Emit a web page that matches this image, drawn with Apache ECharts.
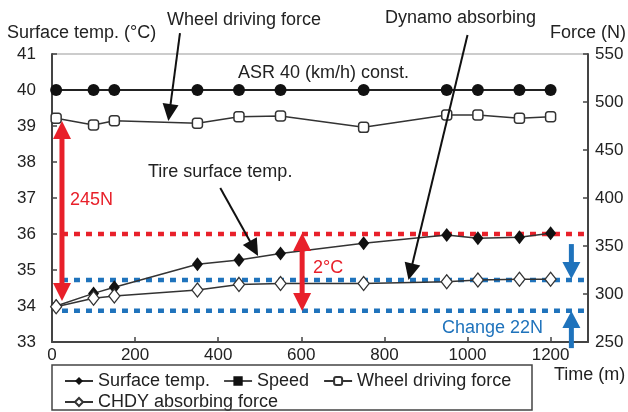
<!DOCTYPE html>
<html><head><meta charset="utf-8">
<script src="https://cdn.jsdelivr.net/npm/echarts@6/dist/echarts.min.js"></script>
<style>html,body{margin:0;padding:0;background:#fff}#c{width:628px;height:412px}</style>
</head><body><div id="c"></div>
<script>
// ---- data ----
const distance = [10, 100, 150, 350, 450, 550, 750, 950, 1025, 1125, 1200];
const surfaceTemp = [34.0, 34.35, 34.52, 35.16, 35.28, 35.46, 35.74, 35.97, 35.88, 35.91, 36.02];
const speed = [40, 40, 40, 40, 40, 40, 40, 40, 40, 40, 40];
const wheelForce = [483, 476, 480.5, 477.8, 484.7, 485.4, 473.6, 486.5, 486.5, 483, 484.7];
const chdyForce = [286.8, 295.5, 298, 304.2, 310, 311, 311, 312.8, 314.6, 315.3, 315.3];
const xTicks = [0, 200, 400, 600, 800, 1000, 1200];
const tempTicks = [33, 34, 35, 36, 37, 38, 39, 40, 41];
const forceTicks = [250, 300, 350, 400, 450, 500, 550];
// reference levels
const refTemp = 36;          // red dotted (°C)
const refForceHi = 314.5;    // blue dotted (N)
const refForceLo = 282.5;    // blue dotted (N)
const refStart = 24;         // m
const xMax = 1290;

const FONT = '"Liberation Sans", Arial, sans-serif';
const RED = '#e8202a', BLUE = '#1f73bc', INK = '#222';

const chart = echarts.init(document.getElementById('c'), null, {renderer: 'canvas'});

const zip = (xs, ys) => xs.map((x, i) => [x, ys[i]]);

chart.setOption({
  animation: false,
  backgroundColor: '#fff',
  grid: {left: 52, right: 40, top: 54, bottom: 70, show: true, borderColor: '#999', borderWidth: 1},
  xAxis: {
    type: 'value', min: xTicks[0], max: xMax, interval: 200,
    axisLine: {show: true, onZero: false, lineStyle: {color: '#444', width: 2}},
    axisTick: {show: true, inside: true, length: 5, lineStyle: {color: '#444', width: 1.5}},
    axisLabel: {fontSize: 17, color: INK, fontFamily: FONT, margin: 5, showMaxLabel: false,
      formatter: v => xTicks.includes(v) ? String(v) : ''},
    splitLine: {show: false}
  },
  yAxis: [{
    type: 'value', position: 'left', min: tempTicks[0], max: tempTicks[tempTicks.length - 1], interval: 1,
    axisLine: {show: true, lineStyle: {color: '#444', width: 2}},
    axisTick: {show: true, inside: true, length: 5, lineStyle: {color: '#444', width: 1.5}},
    axisLabel: {fontSize: 17, color: INK, fontFamily: FONT, margin: 16},
    splitLine: {show: false}
  }, {
    type: 'value', position: 'right', min: forceTicks[0], max: forceTicks[forceTicks.length - 1], interval: 50,
    axisLine: {show: true, lineStyle: {color: '#444', width: 2}},
    axisTick: {show: true, inside: true, length: 5, lineStyle: {color: '#444', width: 1.5}},
    axisLabel: {fontSize: 17, color: INK, fontFamily: FONT, margin: 7},
    splitLine: {show: false}
  }],
  legend: [{
    data: ['Surface temp.', {name: 'Speed', icon: 'path://M0,8.2H30V9.8H0Z M10,4H20V14H10Z'}, 'Wheel driving force'],
    left: 59, top: 367, itemWidth: 28, itemHeight: 10, itemGap: 14, padding: 5,
    selectedMode: false,
    textStyle: {fontSize: 18, color: INK, fontFamily: FONT}
  }, {
    data: ['CHDY absorbing force'],
    left: 59, top: 388, itemWidth: 28, itemHeight: 10, padding: 5,
    selectedMode: false,
    textStyle: {fontSize: 18, color: INK, fontFamily: FONT}
  }],
  series: [
    {name: 'refRed', type: 'line', yAxisIndex: 0, silent: true, symbol: 'none', z: 1,
      data: [[refStart, refTemp], [xMax, refTemp]],
      lineStyle: {color: RED, width: 4.5, type: [6, 6]}},
    {name: 'refBlueHi', type: 'line', yAxisIndex: 1, silent: true, symbol: 'none', z: 1,
      data: [[refStart, refForceHi], [xMax, refForceHi]],
      lineStyle: {color: BLUE, width: 4.5, type: [6, 6]}},
    {name: 'refBlueLo', type: 'line', yAxisIndex: 1, silent: true, symbol: 'none', z: 1,
      data: [[refStart, refForceLo], [xMax, refForceLo]],
      lineStyle: {color: BLUE, width: 4.5, type: [6, 6]}},
    {name: 'Speed', type: 'line', yAxisIndex: 0, data: zip(distance, speed), z: 3,
      symbol: 'circle', symbolSize: 12,
      lineStyle: {color: '#222', width: 2}, itemStyle: {color: '#111'}},
    {name: 'Wheel driving force', type: 'line', yAxisIndex: 1, data: zip(distance, wheelForce), z: 3,
      symbol: 'roundRect', symbolSize: 10,
      lineStyle: {color: '#333', width: 1.5}, itemStyle: {color: '#fff', borderColor: '#333', borderWidth: 1.5}},
    {name: 'Surface temp.', type: 'line', yAxisIndex: 0, data: zip(distance, surfaceTemp), z: 3,
      symbol: 'diamond', symbolSize: [11, 14],
      lineStyle: {color: '#333', width: 1.5}, itemStyle: {color: '#111'}},
    {name: 'CHDY absorbing force', type: 'line', yAxisIndex: 1, data: zip(distance, chdyForce), z: 4,
      symbol: 'diamond', symbolSize: [11, 14],
      lineStyle: {color: '#333', width: 1.5}, itemStyle: {color: '#fff', borderColor: '#333', borderWidth: 1.3}}
  ]
});

// annotation arrows, in data coordinates (x: m, y: °C on the left axis)
const arrows = [
  {from: [308, 41.58], to: [280, 39.14], color: '#111', w: 2, hl: 17, hw: 16, both: false},   // Wheel driving force
  {from: [405, 37.28], to: [496, 35.39], color: '#111', w: 2, hl: 17, hw: 16, both: false},   // Tire surface temp.
  {from: [1000, 41.53], to: [858, 34.72], color: '#111', w: 2, hl: 17, hw: 16, both: false},  // Dynamo absorbing
  {from: [24, 39.14], to: [24, 34.14], color: RED, w: 5, hl: 18, hw: 18, both: true},          // 245N
  {from: [602, 36.03], to: [602, 33.86], color: RED, w: 5, hl: 18, hw: 18, both: true},        // 2°C
  {from: [1250, 35.72], to: [1250, 34.75], color: BLUE, w: 5, hl: 17, hw: 18, both: false},    // down
  {from: [1250, 32.83], to: [1250, 33.86], color: BLUE, w: 5, hl: 17, hw: 18, both: false}     // up
];

function px(p) { return chart.convertToPixel({xAxisIndex: 0, yAxisIndex: 0}, p); }

function arrowEls(a) {
  const p0 = px(a.from), p1 = px(a.to);
  const dx = p1[0] - p0[0], dy = p1[1] - p0[1];
  const L = Math.hypot(dx, dy), ux = dx / L, uy = dy / L, nx = -uy, ny = ux;
  const head = (tip, sx, sy) => {
    const bx = tip[0] - sx * a.hl, by = tip[1] - sy * a.hl;
    return {type: 'polygon', z: 100, silent: true,
      shape: {points: [tip, [bx + nx * a.hw / 2, by + ny * a.hw / 2], [bx - nx * a.hw / 2, by - ny * a.hw / 2]]},
      style: {fill: a.color}};
  };
  const s = a.both ? [p0[0] + ux * (a.hl - 2), p0[1] + uy * (a.hl - 2)] : p0;
  const e = [p1[0] - ux * (a.hl - 2), p1[1] - uy * (a.hl - 2)];
  const els = [{type: 'line', z: 100, silent: true, shape: {x1: s[0], y1: s[1], x2: e[0], y2: e[1]},
    style: {stroke: a.color, lineWidth: a.w}}, head(p1, ux, uy)];
  if (a.both) els.push(head(p0, -ux, -uy));
  return els;
}

const txt = (x, y, text, color, size) => ({type: 'text', x: x, y: y, z: 100, silent: true,
  style: {text: text, fill: color || INK, font: (size || 18) + 'px ' + FONT, textVerticalAlign: 'middle', verticalAlign: 'middle'}});

let graphics = [
  txt(7, 33, 'Surface temp. (°C)'),
  txt(167, 20, 'Wheel driving force'),
  txt(385, 18, 'Dynamo absorbing'),
  txt(550, 33, 'Force (N)'),
  txt(238, 73, 'ASR 40 (km/h) const.'),
  txt(148, 172, 'Tire surface temp.'),
  txt(70, 200, '245N', RED),
  txt(313, 268, '2°C', RED),
  txt(442, 328, 'Change 22N', BLUE),
  txt(554, 375, 'Time (m)'),
  {type: 'rect', z: 50, silent: true, shape: {x: 52, y: 365, width: 480, height: 45},
    style: {fill: 'none', stroke: '#444', lineWidth: 1.5}}
];
arrows.forEach(a => { graphics = graphics.concat(arrowEls(a)); });
chart.setOption({graphic: graphics});
</script>
</body></html>
